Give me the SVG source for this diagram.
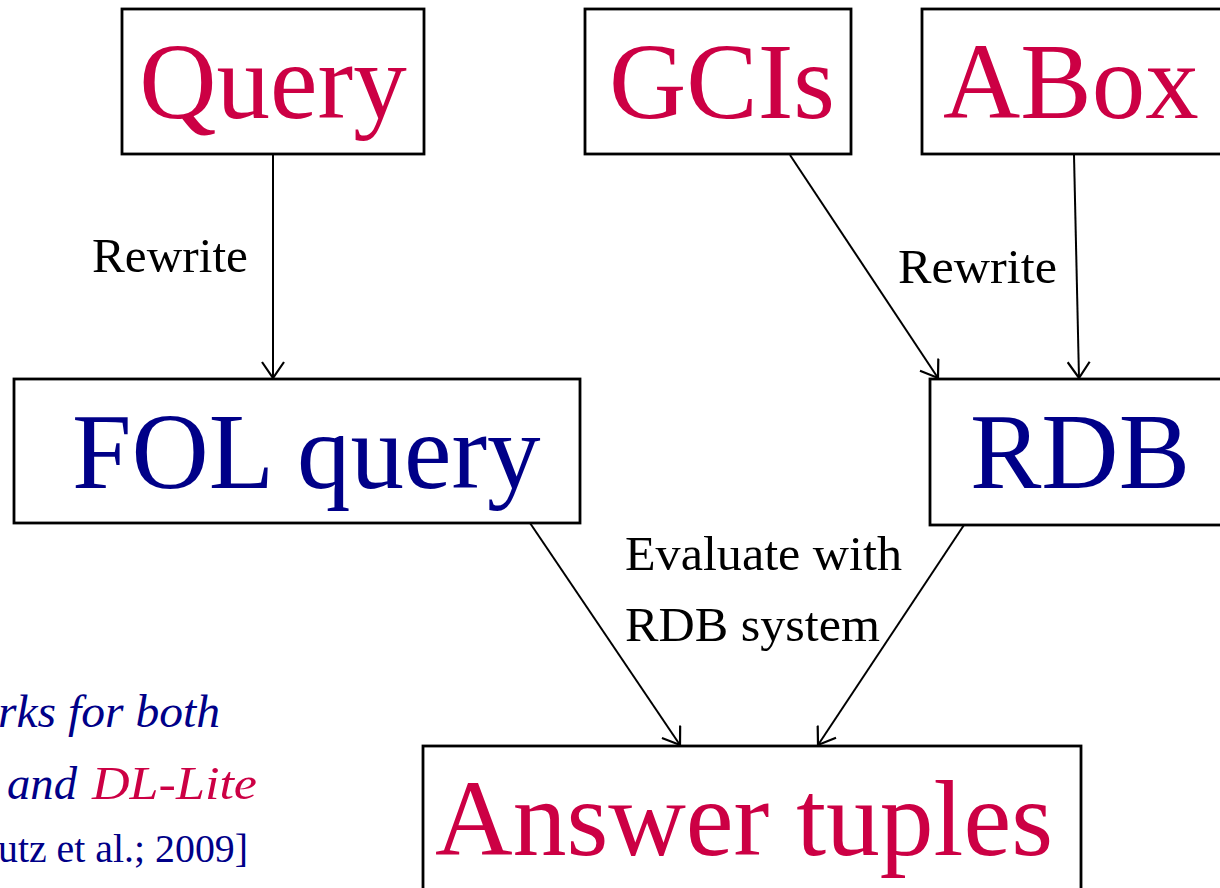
<svg xmlns="http://www.w3.org/2000/svg" width="1220" height="888" viewBox="0 0 1220 888">
  <style>
    .box { fill: #ffffff; stroke: #000000; stroke-width: 2.8; }
    .big { font-family: "Liberation Serif", "Times New Roman", serif; font-size: 107px; }
    .lbl { font-family: "Liberation Serif", "Times New Roman", serif; font-size: 49px; fill: #000000; }
    .note { font-family: "Liberation Serif", "Times New Roman", serif; font-size: 47px; font-style: italic; fill: #000088; }
    .cite { font-family: "Liberation Serif", "Times New Roman", serif; font-size: 40px; fill: #000088; }
    .red { fill: #cc0044; }
    .blue { fill: #000088; }
    .edge { stroke: #000000; stroke-width: 2; fill: none; marker-end: url(#arrow); }
  </style>
  <defs>
    <marker id="arrow" viewBox="0 0 18 24" refX="17" refY="12" markerWidth="18" markerHeight="24" markerUnits="userSpaceOnUse" orient="auto">
      <path d="M1,1 L17,12 L1,23" fill="none" stroke="#000000" stroke-width="2.2"/>
    </marker>
  </defs>
  <rect width="1220" height="888" fill="#ffffff"/>

  <g id="connectors">
    <line class="edge" x1="273" y1="155" x2="273" y2="378"/>
    <line class="edge" x1="790" y1="155" x2="938" y2="378"/>
    <line class="edge" x1="1074" y1="155" x2="1079" y2="378"/>
    <line class="edge" x1="530" y1="523" x2="680" y2="745"/>
    <line class="edge" x1="966" y1="522" x2="818" y2="745"/>
    <text class="lbl" x="92" y="272" textLength="156" lengthAdjust="spacingAndGlyphs">Rewrite</text>
    <text class="lbl" x="898" y="283" textLength="159" lengthAdjust="spacingAndGlyphs">Rewrite</text>
    <text class="lbl" x="625" y="570" textLength="277" lengthAdjust="spacingAndGlyphs">Evaluate with</text>
    <text class="lbl" x="625" y="641" textLength="255" lengthAdjust="spacingAndGlyphs">RDB system</text>
  </g>

  <g id="query">
    <rect class="box" x="122" y="9" width="302" height="145"/>
    <text class="big red" x="273" y="118" text-anchor="middle">Query</text>
  </g>
  <g id="gcis">
    <rect class="box" x="585" y="9" width="266" height="145"/>
    <text class="big red" x="722" y="118" text-anchor="middle">GCIs</text>
  </g>
  <g id="abox">
    <rect class="box" x="922" y="9" width="310" height="145"/>
    <text class="big red" x="943" y="118">ABox</text>
  </g>
  <g id="fol-query">
    <rect class="box" x="14" y="379" width="566" height="144"/>
    <text class="big blue" x="72" y="488">FOL query</text>
  </g>
  <g id="rdb">
    <rect class="box" x="930" y="379" width="300" height="146"/>
    <text class="big blue" x="970" y="488">RDB</text>
  </g>
  <g id="answer-tuples">
    <rect class="box" x="423" y="746" width="658" height="160"/>
    <text class="big red" x="435" y="855" textLength="618" lengthAdjust="spacingAndGlyphs">Answer tuples</text>
  </g>

  <g id="note">
    <text class="note" x="-2" y="727" textLength="222" lengthAdjust="spacingAndGlyphs">rks for both</text>
    <text class="note" x="7" y="799" textLength="70" lengthAdjust="spacingAndGlyphs">and</text>
    <text class="note red" x="92" y="799" textLength="165" lengthAdjust="spacingAndGlyphs">DL-Lite</text>
    <text class="cite" x="-2" y="862" textLength="250" lengthAdjust="spacingAndGlyphs">utz et al.; 2009]</text>
  </g>
</svg>
